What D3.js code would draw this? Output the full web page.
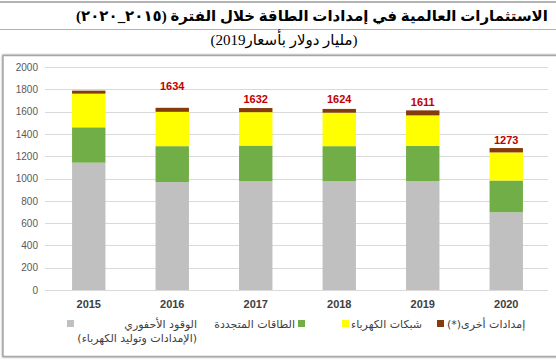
<!DOCTYPE html>
<html>
<head>
<meta charset="utf-8">
<script src="https://cdn.jsdelivr.net/npm/d3@7"></script>
<style>
  body { margin: 0; background: #fff; }
  svg { display: block; }
  .tick text { font-family: Arial, "Liberation Sans", sans-serif; }
</style>
</head>
<body>
<div id="chart"></div>
<script>
// data (billion USD, 2019 prices)
var years = ['2015', '2016', '2017', '2018', '2019', '2020'];
var fossil = [1142, 968, 975, 975, 975, 697];
var renewables = [317, 322, 320, 315, 318, 285];
var grids = [302, 308, 300, 300, 273, 252];
var other = [27, 36, 37, 34, 45, 39];
var totalLabels = ['', '1634', '1632', '1624', '1611', '1273'];
var yTicks = [0, 200, 400, 600, 800, 1000, 1200, 1400, 1600, 1800, 2000];

var seriesNames = ['الوقود الأحفوري', 'الطاقات المتجددة', 'شبكات الكهرباء', 'إمدادات أخرى(*)'];
var seriesColors = ['#c0c0c0', '#72ae48', '#ffff00', '#843c0c'];

var titleText = 'الاستثمارات العالمية في إمدادات الطاقة خلال الفترة (٢٠١٥_٢٠٢٠)';
var subText = '(مليار دولار  بأسعار2019)';
var fossilNote = '(الإمدادات وتوليد الكهرباء)';

var RLM = '\u200F';
function rtl(s) { return RLM + s + RLM; }

var W = 556, H = 362;
var svg = d3.select('#chart').append('svg')
  .attr('width', W)
  .attr('height', H);

// header rules + titles
svg.append('line').attr('x1', 0).attr('x2', W).attr('y1', 2).attr('y2', 2)
  .attr('stroke', '#9a9a9a').attr('stroke-width', 1.5);
svg.append('line').attr('x1', 0).attr('x2', W).attr('y1', 29.5).attr('y2', 29.5)
  .attr('stroke', '#b0b0b0').attr('stroke-width', 1);

var title = svg.append('text')
  .attr('x', 312).attr('y', 21)
  .attr('text-anchor', 'middle')
  .style('font-family', '"Times New Roman", "Liberation Serif", "DejaVu Sans", serif')
  .style('font-weight', 'bold')
  .style('font-size', '17px')
  .style('fill', '#000')
  .text(rtl(titleText));
// squeeze the title to the width it has in the original (~472px)
var tw = title.node().getComputedTextLength();
if (tw > 472) title.style('font-size', (17 * 472 / tw).toFixed(2) + 'px');

svg.append('text')
  .attr('x', 284).attr('y', 45)
  .attr('text-anchor', 'middle')
  .style('font-family', '"Times New Roman", "Liberation Serif", "DejaVu Sans", serif')
  .style('font-size', '15px')
  .style('fill', '#000')
  .text(rtl(subText));

// chart frame with a soft shadow
var defs = svg.append('defs');
var f = defs.append('filter').attr('id', 'shadow').attr('x', '-5%').attr('y', '-5%').attr('width', '110%').attr('height', '110%');
f.append('feDropShadow').attr('dx', 0).attr('dy', 0).attr('stdDeviation', 1.2).attr('flood-color', '#777').attr('flood-opacity', 0.8);

svg.append('rect')
  .attr('x', 3).attr('y', 55.5)
  .attr('width', W + 10).attr('height', 301)
  .attr('fill', '#fff')
  .attr('stroke', '#a6a6a6')
  .attr('stroke-width', 1.5)
  .attr('filter', 'url(#shadow)');

// scales
var x = d3.scaleBand()
  .domain(years)
  .range([47, 548])
  .paddingInner(0.6)
  .paddingOuter(0.3);

var y = d3.scaleLinear()
  .domain([0, 2000])
  .range([290, 67]);

// grid
svg.append('g')
  .selectAll('line')
  .data(yTicks)
  .enter().append('line')
  .attr('x1', 45).attr('x2', 548)
  .attr('y1', function(d) { return Math.round(y(d)) + 0.5; })
  .attr('y2', function(d) { return Math.round(y(d)) + 0.5; })
  .attr('stroke', '#d9d9d9')
  .attr('stroke-width', 1);

// y axis labels
var yAxis = svg.append('g')
  .attr('transform', 'translate(38,0)')
  .call(d3.axisLeft(y).tickValues(yTicks).tickSize(0).tickPadding(0).tickFormat(d3.format('d')));
yAxis.select('.domain').remove();
yAxis.selectAll('text')
  .style('font-size', '10px')
  .style('fill', '#595959');

// stacked bars
var rows = years.map(function(yr, i) {
  return { year: yr, s0: fossil[i], s1: renewables[i], s2: grids[i], s3: other[i] };
});
var stack = d3.stack().keys(['s0', 's1', 's2', 's3']);
var layers = stack(rows);

svg.append('g')
  .selectAll('g')
  .data(layers)
  .enter().append('g')
  .attr('fill', function(d, i) { return seriesColors[i]; })
  .selectAll('rect')
  .data(function(d) { return d; })
  .enter().append('rect')
  .attr('x', function(d) { return x(d.data.year); })
  .attr('width', x.bandwidth())
  .attr('y', function(d) { return y(d[1]); })
  .attr('height', function(d) { return y(d[0]) - y(d[1]); });

// x axis labels
var xAxis = svg.append('g')
  .attr('transform', 'translate(0,300)')
  .call(d3.axisBottom(x).tickSize(0).tickPadding(0));
xAxis.select('.domain').remove();
xAxis.selectAll('text')
  .attr('dy', '0.71em')
  .style('font-size', '11px')
  .style('font-weight', 'bold')
  .style('fill', '#404040');

// total labels above bars (gap to the bar top differs per bar in the original)
var labelLift = [0, 18, 5.5, 5.5, 4.7, 4];
svg.append('g')
  .selectAll('text')
  .data(rows)
  .enter().append('text')
  .attr('x', function(d) { return x(d.year) + x.bandwidth() / 2; })
  .attr('y', function(d, i) { return y(d.s0 + d.s1 + d.s2 + d.s3) - labelLift[i]; })
  .attr('text-anchor', 'middle')
  .style('font-family', 'Arial, "Liberation Sans", sans-serif')
  .style('font-size', '11px')
  .style('font-weight', 'bold')
  .style('fill', '#c00000')
  .text(function(d, i) { return totalLabels[i]; });

// legend
var lg = svg.append('g')
  .style('font-family', 'Tahoma, "DejaVu Sans", Arial, sans-serif')
  .style('font-size', '11px')
  .style('fill', '#404040');

var legendItems = [
  { sw: 67, tx: 197, anchor: 'end', lines: [seriesNames[0], fossilNote] },
  { sw: 298, tx: 295, anchor: 'end', lines: [seriesNames[1]] },
  { sw: 342, tx: 351, anchor: 'start', lines: [seriesNames[2]] },
  { sw: 437, tx: 447, anchor: 'start', lines: [seriesNames[3]] }
];
legendItems.forEach(function(it, i) {
  lg.append('rect')
    .attr('x', it.sw).attr('y', 320)
    .attr('width', 7).attr('height', 7)
    .attr('fill', seriesColors[i]);
  it.lines.forEach(function(t, k) {
    lg.append('text')
      .attr('x', it.tx).attr('y', 328 + k * 14)
      .attr('text-anchor', it.anchor)
      .text(rtl(t));
  });
});
</script>
</body>
</html>
